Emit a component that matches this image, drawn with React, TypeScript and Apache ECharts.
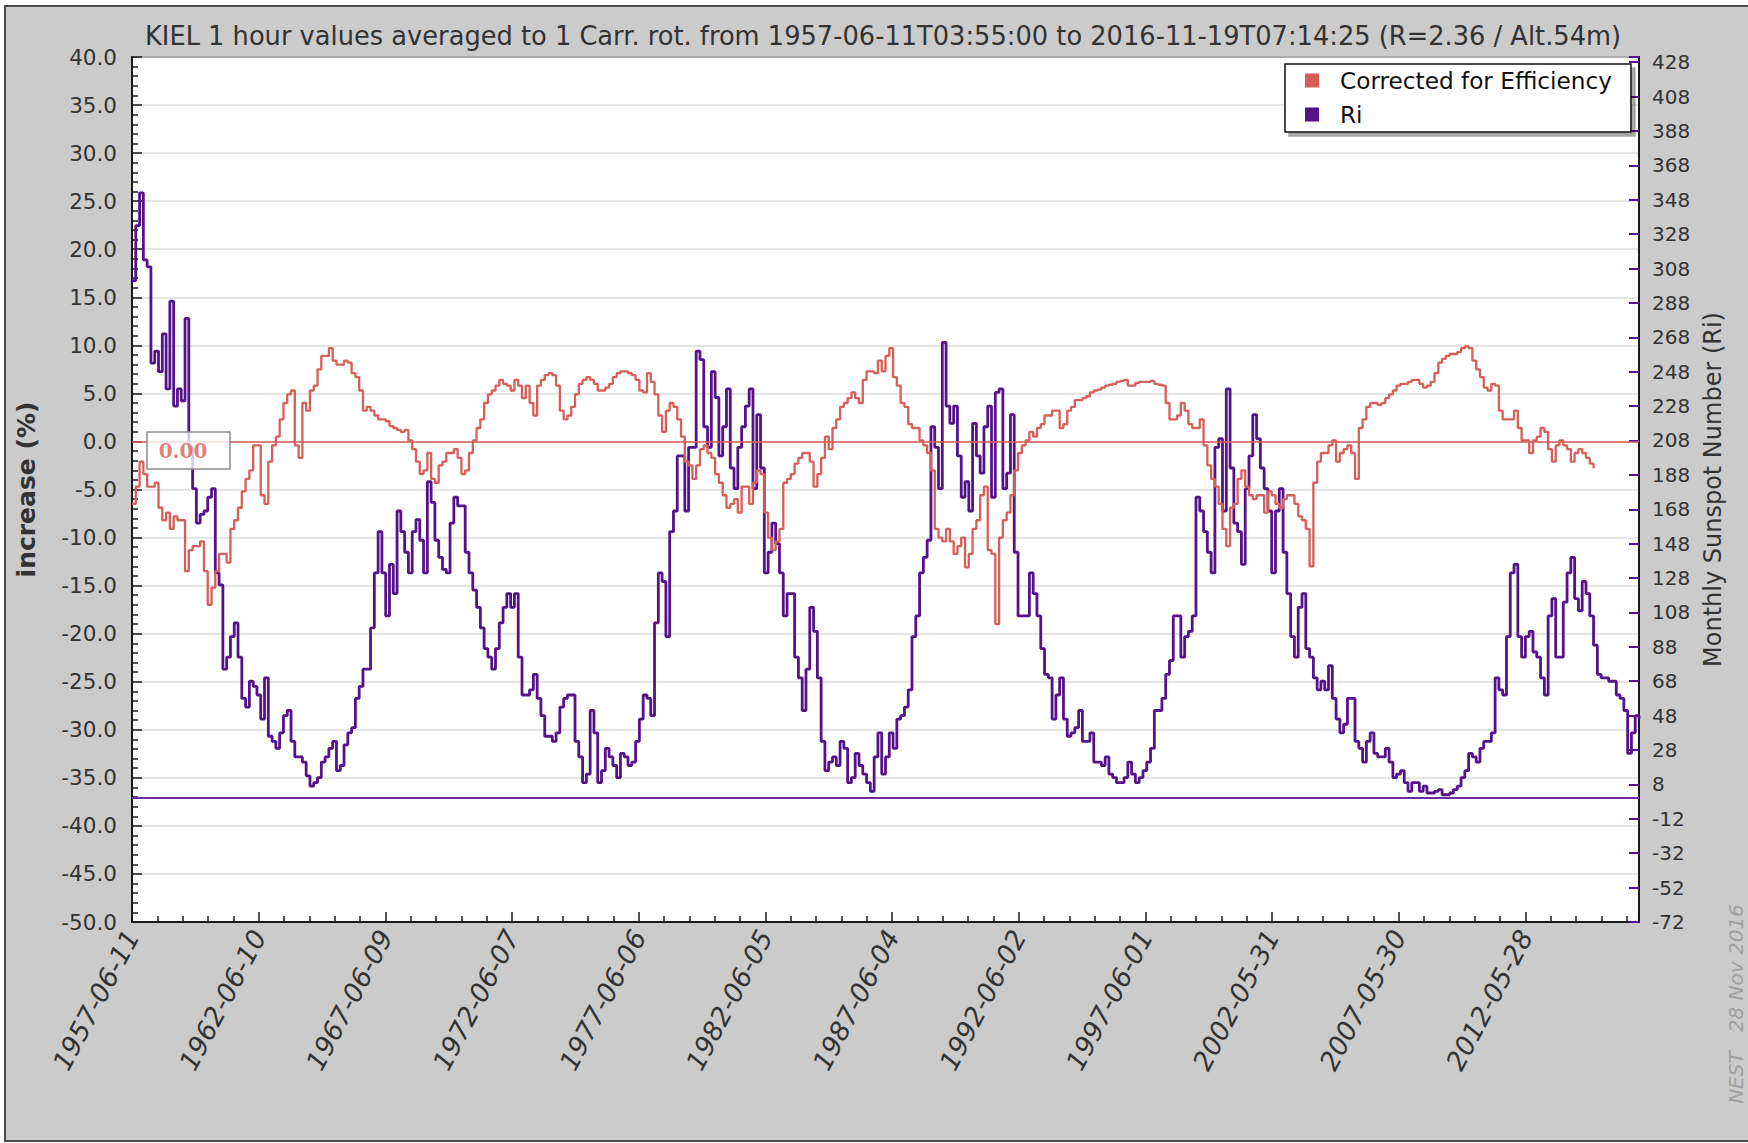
import React, { useEffect, useRef } from 'react';
import * as echarts from 'echarts';

const TITLE =
  'KIEL 1 hour values averaged to 1 Carr. rot. from 1957-06-11T03:55:00 to 2016-11-19T07:14:25 (R=2.36 / Alt.54m)';
const START = Date.UTC(1957, 5, 11, 3, 55, 0);
const END = Date.UTC(2016, 10, 19, 7, 14, 25);
const DAY = 86400000;
const TICK_DAYS = 1825;
const CARRINGTON_DAYS = 27.2753;
const SAMPLE_ROTATIONS = 2;

const RED = '#d65f5a';
const PURPLE = '#55138a';

// "Corrected for Efficiency" (%), one value every 2 Carrington rotations from 1957-06-11
const efficiencyValues = [
  -6.5, -4.7, -2.1, -3.4, -4.7, -4.7, -4.3, -6.9, -8.2, -7.4,
  -9.1, -7.8, -8.2, -8.2, -13.5, -11.3, -10.9, -10.9, -10.4, -13.5,
  -17.0, -15.2, -13.5, -11.7, -11.7, -12.6, -9.1, -8.2, -6.9, -5.2,
  -3.9, -3.0, -0.4, -0.4, -5.6, -6.5, -2.1, -0.4, 0.5, 2.3,
  4.0, 4.9, 5.3, -0.4, -1.7, 4.0, 3.2, 5.3, 5.8, 7.5,
  8.9, 8.9, 9.7, 8.4, 8.0, 8.0, 8.4, 8.2, 7.1, 6.7,
  5.3, 3.2, 3.6, 3.2, 2.7, 2.3, 2.3, 2.1, 1.6, 1.4,
  1.2, 1.0, 1.2, 0.1, -0.8, -2.1, -3.4, -3.0, -1.2, -3.9,
  -4.3, -2.5, -2.1, -1.2, -1.2, -0.8, -1.7, -3.4, -3.0, -1.2,
  0.1, 1.4, 2.3, 4.0, 4.9, 5.3, 5.8, 6.4, 6.0, 5.8,
  5.3, 6.4, 5.8, 4.5, 5.8, 4.0, 2.7, 5.8, 6.4, 6.9,
  7.1, 6.9, 5.8, 3.2, 2.3, 2.7, 3.6, 4.9, 6.0, 6.4,
  6.7, 6.4, 6.0, 5.3, 5.3, 5.6, 6.0, 6.7, 7.1, 7.3,
  7.3, 7.1, 6.9, 6.4, 5.3, 5.1, 7.1, 6.2, 4.9, 2.7,
  1.0, 3.2, 4.0, 3.6, 2.3, 0.5, -2.1, -2.5, -3.9, -2.5,
  -0.8, -0.4, -1.2, -1.7, -3.4, -4.3, -5.6, -6.9, -6.5, -6.0,
  -7.4, -4.7, -4.7, -6.5, -4.3, -3.0, -3.4, -7.4, -10.0, -11.3,
  -10.4, -9.1, -4.3, -3.9, -3.4, -2.3, -1.7, -1.2, -1.2, -2.1,
  -4.7, -3.4, -1.7, 0.5, -0.8, 1.4, 2.3, 3.6, 4.0, 4.5,
  5.1, 4.5, 4.0, 6.4, 7.3, 7.3, 7.1, 8.4, 7.3, 8.9,
  9.7, 6.7, 5.8, 4.0, 3.6, 1.8, 1.4, 1.4, 0.1, -0.4,
  -1.2, -3.0, -9.1, -10.0, -10.4, -9.1, -10.4, -11.7, -10.9, -10.0,
  -13.1, -11.7, -9.1, -8.2, -5.6, -4.7, -11.3, -11.7, -19.0, -10.0,
  -8.2, -7.4, -5.6, -3.0, -1.2, -0.4, 0.1, 1.0, 0.5, 1.4,
  1.8, 2.7, 2.7, 3.2, 3.2, 1.4, 1.8, 3.2, 3.6, 4.3,
  4.3, 4.5, 4.7, 5.1, 5.3, 5.4, 5.6, 5.8, 5.9, 6.0,
  6.2, 6.3, 6.4, 5.8, 5.8, 6.1, 6.2, 6.2, 6.2, 6.3,
  6.0, 5.9, 5.8, 4.0, 2.3, 2.3, 2.7, 4.0, 3.2, 1.8,
  1.4, 1.4, 2.3, -0.4, -2.5, -3.9, -4.7, -6.5, -9.1, -10.9,
  -6.9, -6.5, -3.9, -3.0, -4.7, -5.6, -6.0, -5.6, -5.6, -7.4,
  -5.2, -5.6, -6.5, -6.9, -6.0, -5.6, -5.6, -6.5, -7.8, -8.2,
  -9.1, -13.0, -4.3, -2.1, -1.2, -1.2, -0.4, 0.1, -2.1, -1.2,
  -0.8, -0.4, -1.2, -3.9, 1.4, 2.3, 3.6, 4.0, 4.0, 3.8,
  4.0, 4.5, 4.9, 5.3, 5.8, 6.0, 6.0, 6.2, 6.4, 6.4,
  6.0, 5.6, 5.8, 6.2, 7.1, 8.2, 8.6, 8.9, 9.1, 9.1,
  9.3, 9.7, 9.9, 9.7, 8.4, 7.5, 6.7, 5.6, 5.3, 6.0,
  5.8, 3.2, 2.3, 2.3, 2.3, 3.2, 1.4, 0.1, 0.1, -1.2,
  0.1, 0.5, 1.4, 1.0, -0.8, -2.1, -0.4, 0.1, -0.4, -0.8,
  -2.1, -1.2, -0.8, -1.2, -1.7, -2.3, -2.8,
];

// Monthly sunspot number Ri, same sampling
const riValues = [
  301, 333, 352, 313, 309, 253, 260, 248, 270, 238,
  289, 228, 238, 231, 279, 204, 180, 160, 165, 167,
  175, 180, 131, 124, 75, 82, 94, 102, 82, 58,
  53, 68, 65, 60, 46, 70, 36, 33, 29, 38,
  48, 51, 33, 24, 24, 21, 13, 7, 9, 12,
  21, 24, 29, 33, 16, 19, 31, 38, 41, 58,
  65, 75, 75, 99, 131, 155, 131, 106, 136, 119,
  167, 155, 143, 131, 155, 162, 150, 131, 184, 172,
  150, 140, 133, 131, 160, 175, 170, 170, 143, 131,
  121, 111, 99, 87, 82, 75, 87, 102, 111, 119,
  111, 119, 82, 60, 60, 63, 72, 58, 48, 36,
  36, 33, 38, 53, 58, 60, 60, 33, 24, 9,
  14, 51, 38, 9, 16, 29, 24, 19, 12, 26,
  24, 19, 21, 33, 46, 60, 58, 48, 102, 131,
  126, 94, 155, 167, 199, 199, 167, 204, 204, 260,
  255, 216, 204, 248, 233, 199, 216, 238, 192, 180,
  204, 216, 228, 238, 180, 223, 192, 131, 143, 160,
  148, 131, 106, 119, 119, 82, 70, 51, 75, 111,
  97, 70, 33, 16, 21, 24, 19, 33, 29, 9,
  12, 26, 19, 14, 9, 4, 24, 38, 14, 24,
  38, 29, 46, 48, 53, 63, 94, 106, 131, 140,
  150, 216, 204, 180, 265, 228, 218, 228, 199, 175,
  184, 167, 218, 199, 189, 216, 228, 175, 236, 238,
  180, 189, 223, 143, 106, 106, 106, 131, 119, 106,
  87, 72, 70, 46, 60, 70, 46, 36, 38, 41,
  51, 33, 33, 38, 21, 21, 19, 24, 14, 12,
  9, 9, 12, 21, 14, 9, 12, 16, 21, 29,
  51, 51, 58, 72, 80, 106, 106, 82, 94, 97,
  106, 175, 167, 155, 143, 131, 204, 209, 167, 238,
  192, 160, 155, 136, 180, 199, 223, 209, 192, 180,
  167, 131, 167, 180, 143, 119, 94, 82, 111, 119,
  87, 82, 70, 63, 68, 63, 77, 58, 46, 38,
  43, 58, 58, 33, 29, 21, 33, 38, 26, 24,
  24, 29, 21, 12, 14, 16, 9, 4, 9, 9,
  4, 7, 3, 3, 4, 5, 2, 2, 3, 5,
  7, 12, 16, 26, 24, 21, 29, 33, 33, 38,
  70, 63, 60, 94, 131, 136, 94, 82, 94, 97,
  85, 82, 70, 60, 106, 116, 82, 82, 114, 131,
  140, 116, 109, 126, 119, 106, 89, 72, 70, 70,
  68, 68, 60, 58, 51, 26, 38, 48, 46,
];

const LEFT_MIN = -50;
const LEFT_MAX = 40;
const LEFT_STEP = 5;
const RIGHT_MIN = -72;
const RIGHT_MAX = 431;
const RIGHT_STEP = 20;

const FONT = 'DejaVu Sans';

function pad(n: number) {
  return n < 10 ? '0' + n : String(n);
}

export default function App() {
  const ref = useRef<HTMLDivElement>(null);

  useEffect(() => {
    if (!ref.current) return;
    const chart = echarts.init(ref.current, null, { renderer: 'svg' });
    const stepMs = SAMPLE_ROTATIONS * CARRINGTON_DAYS * DAY;
    const tickMs = TICK_DAYS * DAY;
    const effData = efficiencyValues.map((v, i) => [Math.min(START + i * stepMs, END), v]);
    const riData = riValues.map((v, i) => [Math.min(START + i * stepMs, END), v]);

    const dateLabel = (v: number) => {
      const k = Math.round((v - START) / tickMs);
      if (Math.abs(v - START - k * tickMs) > DAY / 2) return '';
      const d = new Date(v);
      return d.getUTCFullYear() + '-' + pad(d.getUTCMonth() + 1) + '-' + pad(d.getUTCDate());
    };

    const axisLineStyle = { color: '#1a1a1a', width: 2 };

    chart.setOption({
      animation: false,
      backgroundColor: '#ffffff',
      textStyle: { fontFamily: FONT },
      title: {
        text: TITLE,
        left: 878,
        top: 18,
        textAlign: 'center',
        textStyle: { fontSize: 25.7, fontWeight: 'normal', color: '#333333', fontFamily: FONT },
      },
      grid: {
        left: 132,
        right: 109,
        top: 57,
        bottom: 221,
        show: true,
        backgroundColor: '#ffffff',
        borderColor: '#1a1a1a',
        borderWidth: 2,
      },
      legend: {
        data: ['Corrected for Efficiency', 'Ri'],
        orient: 'vertical',
        left: 1285,
        top: 64,
        padding: [5, 19, 6, 20],
        itemGap: 11,
        itemWidth: 14,
        itemHeight: 14,
        icon: 'rect',
        backgroundColor: '#ffffff',
        borderColor: '#111111',
        borderWidth: 1.5,
        shadowColor: 'rgba(0,0,0,0.35)',
        shadowBlur: 1,
        shadowOffsetX: 4,
        shadowOffsetY: 4,
        selectedMode: false,
        textStyle: {
          fontSize: 23.2,
          color: '#111111',
          fontFamily: FONT,
          lineHeight: 22,
          padding: [0, 0, 0, 16],
        },
      },
      xAxis: {
        type: 'value',
        min: START,
        max: END,
        interval: tickMs,
        axisLine: { show: true, onZero: false, lineStyle: axisLineStyle },
        axisTick: { show: true, inside: true, length: 10, lineStyle: { color: '#1a1a1a', width: 1.5 } },
        minorTick: { show: true, splitNumber: 5, length: 6, lineStyle: { color: '#1a1a1a', width: 1.5 } },
        splitLine: { show: false },
        axisLabel: {
          rotate: 62,
          margin: 10,
          fontSize: 26.5,
          fontStyle: 'italic',
          color: '#333333',
          fontFamily: FONT,
          formatter: dateLabel,
        },
      },
      yAxis: [
        {
          type: 'value',
          position: 'left',
          min: LEFT_MIN,
          max: LEFT_MAX,
          interval: LEFT_STEP,
          name: 'increase (%)',
          nameLocation: 'middle',
          nameGap: 93,
          nameTextStyle: { fontSize: 25, fontWeight: 'bold', color: '#333333', fontFamily: FONT },
          axisLine: { show: true, onZero: false, lineStyle: axisLineStyle },
          axisTick: { show: true, inside: true, length: 10, lineStyle: { color: '#1a1a1a', width: 1.5 } },
          minorTick: { show: true, splitNumber: 5, length: 6, lineStyle: { color: '#1a1a1a', width: 1.5 } },
          axisLabel: {
            margin: 15,
            fontSize: 21.5,
            color: '#333333',
            fontFamily: FONT,
            formatter: (v: number) => v.toFixed(1),
          },
          splitLine: { show: true, lineStyle: { color: '#dcdcdc', width: 1.5 } },
        },
        {
          type: 'value',
          position: 'right',
          min: RIGHT_MIN,
          max: RIGHT_MAX,
          interval: RIGHT_STEP,
          name: 'Monthly Sunspot Number (Ri)',
          nameLocation: 'middle',
          nameGap: 52,
          nameTextStyle: { fontSize: 24, color: '#333333', fontFamily: FONT },
          axisLine: { show: true, onZero: false, lineStyle: axisLineStyle },
          axisTick: { show: true, inside: true, length: 10, lineStyle: { color: PURPLE, width: 2 } },
          axisLabel: {
            margin: 13,
            fontSize: 20,
            color: '#333333',
            fontFamily: FONT,
            formatter: (v: number) => ((v - RIGHT_MIN) % RIGHT_STEP === 0 ? String(v) : ''),
          },
          splitLine: { show: false },
        },
      ],
      series: [
        {
          name: 'Ri',
          type: 'line',
          yAxisIndex: 1,
          step: 'end',
          data: riData,
          showSymbol: false,
          symbol: 'none',
          lineStyle: { color: PURPLE, width: 2.8 },
          itemStyle: { color: PURPLE },
          markLine: {
            silent: true,
            symbol: 'none',
            animation: false,
            label: { show: false },
            lineStyle: { color: '#6b2d9e', width: 2, type: 'solid' },
            data: [{ yAxis: 0 }],
          },
        },
        {
          name: 'Corrected for Efficiency',
          type: 'line',
          yAxisIndex: 0,
          step: 'end',
          data: effData,
          showSymbol: false,
          symbol: 'none',
          lineStyle: { color: RED, width: 2.3 },
          itemStyle: { color: RED },
          markLine: {
            silent: true,
            symbol: 'none',
            animation: false,
            label: { show: false },
            lineStyle: { color: RED, width: 1.5, type: 'solid' },
            data: [{ yAxis: 0 }],
          },
        },
      ],
    });

    const x0 = chart.convertToPixel({ xAxisIndex: 0 }, START) as number;
    const y0 = chart.convertToPixel({ yAxisIndex: 0 }, 0) as number;

    chart.setOption({
      graphic: [
        {
          type: 'rect',
          z: -100,
          silent: true,
          shape: { x: 5, y: 6, width: 1800, height: 1135 },
          style: { fill: '#cbcbcb', stroke: '#4a4a4a', lineWidth: 2 },
        },
        {
          type: 'rect',
          z: 50,
          silent: true,
          shape: { x: x0 + 15, y: y0 - 9.5, width: 83, height: 37 },
          style: { fill: 'rgba(255,255,255,0.78)', stroke: '#8c8c8c', lineWidth: 1.5 },
        },
        {
          type: 'text',
          z: 51,
          silent: true,
          x: x0 + 51,
          y: y0 + 10,
          style: {
            text: '0.00',
            fontSize: 20,
            fontWeight: 'bold',
            fontFamily: 'DejaVu Serif',
            fill: 'rgba(214,95,90,0.8)',
            textAlign: 'center',
            textVerticalAlign: 'middle',
            align: 'center',
            verticalAlign: 'middle',
          },
        },
        {
          type: 'text',
          z: 10,
          silent: true,
          x: 1736,
          y: 1004,
          rotation: Math.PI / 2,
          style: {
            text: 'NEST   28 Nov 2016',
            fontSize: 20,
            fontStyle: 'italic',
            fontFamily: FONT,
            fill: '#a0a0a0',
            textAlign: 'center',
            textVerticalAlign: 'middle',
            align: 'center',
            verticalAlign: 'middle',
          },
        },
      ],
    });

    return () => chart.dispose();
  }, []);

  return (
    <div
      ref={ref}
      style={{ position: 'fixed', left: 0, top: 0, width: 1748, height: 1143, background: '#ffffff' }}
    />
  );
}
